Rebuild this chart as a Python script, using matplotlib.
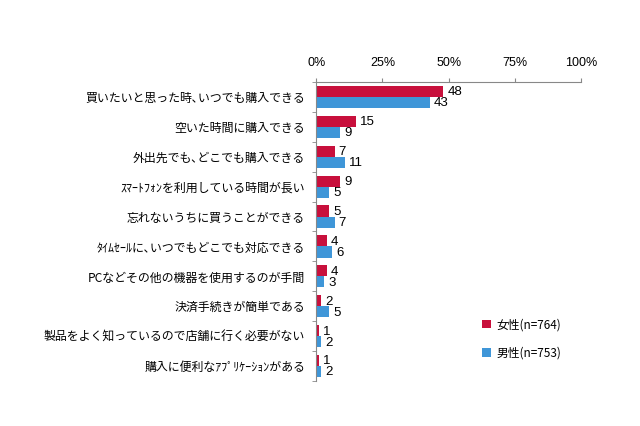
import numpy as np
import matplotlib.pyplot as plt

plt.rcParams['font.family'] = ['Noto Sans CJK JP', 'DejaVu Sans']

categories = [
    '買いたいと思った時､いつでも購入できる',
    '空いた時間に購入できる',
    '外出先でも､どこでも購入できる',
    'ｽﾏｰﾄﾌｫﾝを利用している時間が長い',
    '忘れないうちに買うことができる',
    'ﾀｲﾑｾｰﾙに､いつでもどこでも対応できる',
    'PCなどその他の機器を使用するのが手間',
    '決済手続きが簡単である',
    '製品をよく知っているので店舗に行く必要がない',
    '購入に便利なｱﾌﾟﾘｹｰｼｮﾝがある',
]
female = [48, 15, 7, 9, 5, 4, 4, 2, 1, 1]
male = [43, 9, 11, 5, 7, 6, 3, 5, 2, 2]
series_names = ['女性(n=764)', '男性(n=753)']
colors = ['#C8103C', '#3F96D8']

fig = plt.figure(figsize=(6.4, 4.26), dpi=100)
ax = fig.add_axes([0.494, 0.1056, 0.414, 0.702])

y = np.arange(len(categories))
h = 0.37
b1 = ax.barh(y - h / 2, female, height=h, color=colors[0], label=series_names[0])
b2 = ax.barh(y + h / 2, male, height=h, color=colors[1], label=series_names[1])

for bars, vals in ((b1, female), (b2, male)):
  for bar, v in zip(bars, vals):
    ax.text(bar.get_width() + 1.5, bar.get_y() + bar.get_height() / 2 + 0.03, str(v),
            va='center', ha='left', fontsize=9.5, family=['Liberation Sans', 'DejaVu Sans'])

ax.set_xlim(0, 100)
ax.set_ylim(len(categories) - 0.5, -0.5)
ax.xaxis.tick_top()
ax.set_xticks([0, 25, 50, 75, 100])
ax.set_xticklabels(['0%', '25%', '50%', '75%', '100%'], fontsize=9,
                   family=['Liberation Sans', 'DejaVu Sans'])
ax.tick_params(axis='x', length=3, color='#888888', pad=6)

ax.set_yticks(y)
ax.set_yticklabels(categories, fontsize=8.6)
ax.tick_params(axis='y', length=0, pad=8)
ax.set_yticks(np.arange(-0.5, len(categories), 1), minor=True)
ax.tick_params(axis='y', which='minor', length=3, color='#888888')

for s in ('right', 'bottom'):
  ax.spines[s].set_visible(False)
ax.spines['top'].set_color('#888888')
ax.spines['left'].set_color('#888888')

leg = fig.legend(handles=[b1, b2], loc='upper left', bbox_to_anchor=(0.737, 0.278),
                 frameon=False, fontsize=8.5, handlelength=0.7, handleheight=0.7,
                 labelspacing=1.3, handletextpad=0.5)

fig.savefig('out.png', dpi=100)
